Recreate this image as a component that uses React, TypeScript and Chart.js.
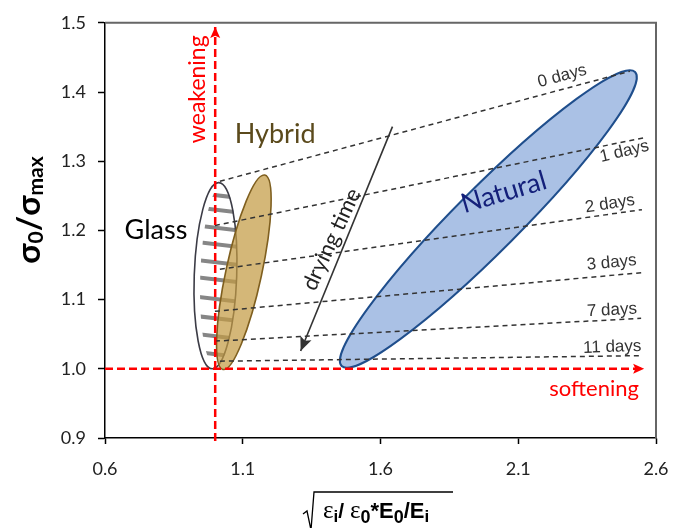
import React, { useEffect, useRef } from 'react';
import { Chart, registerables } from 'chart.js';

Chart.register(...registerables);

// ---- axis ticks ----
const xTicks = [0.6, 1.1, 1.6, 2.1, 2.6];
const yTicks = [0.9, 1.0, 1.1, 1.2, 1.3, 1.4, 1.5];

// ---- drying-time dashed lines (start -> end, data coords) ----
const dayLabels = ['0 days', '1 days', '2 days', '3 days', '7 days', '11 days'];
const dayStartX = [1.017, 0.999, 1.017, 0.999, 0.999, 1.017];
const dayStartY = [1.271, 1.207, 1.144, 1.083, 1.040, 1.011];
const dayEndX = [2.505, 2.557, 2.549, 2.549, 2.546, 2.546];
const dayEndY = [1.430, 1.334, 1.230, 1.139, 1.073, 1.019];
// label anchors (baseline-left) and tilt
const dayLabelX = [2.176, 2.401, 2.346, 2.350, 2.350, 2.336];
const dayLabelY = [1.407, 1.299, 1.226, 1.143, 1.076, 1.023];
const dayLabelAngle = [-15, -13.5, -9, -5.5, -3, -2];

// ---- ellipses: major-axis end points (data) and minor/major ratio ----
const ellipseNames = ['Glass', 'Hybrid', 'Natural'];
const ellipseX1 = [0.989, 1.028, 1.459];
const ellipseY1 = [1.000, 0.999, 1.004];
const ellipseX2 = [1.013, 1.180, 2.524];
const ellipseY2 = [1.269, 1.280, 1.429];
const ellipseRatio = [0.228, 0.18, 0.153];

// hatching stripes of the Glass ellipse (y values)
const glassHatchY = [1.251, 1.230, 1.204, 1.180, 1.154, 1.129, 1.101, 1.073, 1.047, 1.021];

// ---- reference lines ----
const weakeningX = [1.0, 1.0];
const weakeningY = [0.8957, 1.494];
const softeningX = [0.6, 2.557];
const softeningY = [1.0, 1.0];
const dryingX = [1.6435, 1.3101];
const dryingY = [1.35, 1.0257];

const FONT = "Lato, 'Noto Sans', 'DejaVu Sans', sans-serif";
const ARIAL = "'Liberation Sans', Arial, sans-serif";

function arrowHead(ctx: CanvasRenderingContext2D, x0: number, y0: number, x1: number, y1: number, len: number, half: number, color: string) {
  const a = Math.atan2(y1 - y0, x1 - x0);
  const c = Math.cos(a), s = Math.sin(a);
  ctx.save();
  ctx.fillStyle = color;
  ctx.beginPath();
  ctx.moveTo(x1, y1);
  ctx.lineTo(x1 - len * c + half * s, y1 - len * s - half * c);
  ctx.lineTo(x1 - len * c * 0.8, y1 - len * s * 0.8);
  ctx.lineTo(x1 - len * c - half * s, y1 - len * s + half * c);
  ctx.closePath();
  ctx.fill();
  ctx.restore();
}

function ellipseGeom(chart: any, i: number) {
  const xs = chart.scales.x, ys = chart.scales.y;
  const x1 = xs.getPixelForValue(ellipseX1[i]), y1 = ys.getPixelForValue(ellipseY1[i]);
  const x2 = xs.getPixelForValue(ellipseX2[i]), y2 = ys.getPixelForValue(ellipseY2[i]);
  const cx = (x1 + x2) / 2, cy = (y1 + y2) / 2;
  const a = Math.hypot(x2 - x1, y2 - y1) / 2;
  const b = a * ellipseRatio[i];
  const ang = Math.atan2(y2 - y1, x2 - x1);
  return { cx, cy, a, b, ang };
}

function text(ctx: CanvasRenderingContext2D, s: string, x: number, y: number, font: string, color: string, angle = 0, align: CanvasTextAlign = 'left', base: CanvasTextBaseline = 'alphabetic') {
  ctx.save();
  ctx.translate(x, y);
  ctx.rotate((angle * Math.PI) / 180);
  ctx.font = font;
  ctx.fillStyle = color;
  ctx.textAlign = align;
  ctx.textBaseline = base;
  ctx.fillText(s, 0, 0);
  ctx.restore();
}

const shapesPlugin = {
  id: 'shapes',
  beforeDatasetsDraw(chart: any) {
    const ctx: CanvasRenderingContext2D = chart.ctx;
    const ys = chart.scales.y;
    // Natural
    const n = ellipseGeom(chart, 2);
    ctx.save();
    ctx.beginPath();
    ctx.ellipse(n.cx, n.cy, n.a, n.b, n.ang, 0, Math.PI * 2);
    ctx.fillStyle = '#aac1e5';
    ctx.fill();
    ctx.lineWidth = 2;
    ctx.strokeStyle = '#1f4e8c';
    ctx.stroke();
    ctx.restore();
    // Glass
    const g = ellipseGeom(chart, 0);
    ctx.save();
    ctx.beginPath();
    ctx.ellipse(g.cx, g.cy, g.a, g.b, g.ang, 0, Math.PI * 2);
    ctx.fillStyle = '#ffffff';
    ctx.fill();
    ctx.restore();
    ctx.save();
    ctx.beginPath();
    ctx.ellipse(g.cx + 3, g.cy, g.a - 3, g.b - 3, g.ang, 0, Math.PI * 2);
    ctx.clip();
    ctx.strokeStyle = '#868686';
    ctx.lineWidth = 4;
    const gx = g.cx;
    for (const hy of glassHatchY) {
      const py = ys.getPixelForValue(hy);
      ctx.beginPath();
      ctx.moveTo(gx - 30, py - 3.5);
      ctx.lineTo(gx + 30, py + 3.5);
      ctx.stroke();
    }
    ctx.restore();
    ctx.save();
    ctx.beginPath();
    ctx.ellipse(g.cx, g.cy, g.a, g.b, g.ang, 0, Math.PI * 2);
    ctx.lineWidth = 1.6;
    ctx.strokeStyle = '#3c3c46';
    ctx.stroke();
    ctx.restore();
    // Hybrid
    const h = ellipseGeom(chart, 1);
    ctx.save();
    ctx.beginPath();
    ctx.ellipse(h.cx, h.cy, h.a, h.b, h.ang, 0, Math.PI * 2);
    ctx.fillStyle = 'rgba(196,155,68,0.72)';
    ctx.fill();
    ctx.lineWidth = 1.6;
    ctx.strokeStyle = '#7f5f1f';
    ctx.stroke();
    ctx.restore();
  },
  afterDatasetsDraw(chart: any) {
    const ctx: CanvasRenderingContext2D = chart.ctx;
    const xs = chart.scales.x, ys = chart.scales.y;
    const X = (v: number) => xs.getPixelForValue(v);
    const Y = (v: number) => ys.getPixelForValue(v);
    // arrowheads
    arrowHead(ctx, X(weakeningX[0]), Y(weakeningY[0]), X(weakeningX[1]), Y(weakeningY[1]), 11, 5, '#ff0000');
    arrowHead(ctx, X(softeningX[0]), Y(softeningY[0]), X(softeningX[1]), Y(softeningY[1]), 11, 5, '#ff0000');
    arrowHead(ctx, X(dryingX[0]), Y(dryingY[0]), X(dryingX[1]), Y(dryingY[1]), 14, 6, '#333333');
    // day labels
    dayLabels.forEach((s, i) => {
      text(ctx, s, X(dayLabelX[i]), Y(dayLabelY[i]), `17px ${ARIAL}`, '#333333', dayLabelAngle[i]);
    });
    // named labels
    text(ctx, ellipseNames[0], X(0.785), Y(1.187), `27px ${FONT}`, '#000000', 0, 'center');
    text(ctx, ellipseNames[1], X(1.071), Y(1.327), `27px ${FONT}`, '#5b4a1c', 0, 'left');
    text(ctx, ellipseNames[2], X(2.0565), Y(1.2429), `27px ${FONT}`, '#14207a', -16.5, 'center');
    text(ctx, 'weakening', X(0.937), Y(1.404), `23px ${FONT}`, '#ff0000', -90, 'center', 'middle');
    text(ctx, 'softening', X(2.538), Y(0.96), `22px ${FONT}`, '#ff0000', 0, 'right');
    text(ctx, 'drying time', X(1.4225), Y(1.187), `22px ${FONT}`, '#222222', -65, 'center', 'middle');
  },
  afterDraw(chart: any) {
    const ctx: CanvasRenderingContext2D = chart.ctx;
    const ca = chart.chartArea;
    // top & right frame
    ctx.save();
    ctx.strokeStyle = '#666666';
    ctx.lineWidth = 2;
    ctx.beginPath();
    ctx.moveTo(ca.left, ca.top);
    ctx.lineTo(ca.right, ca.top);
    ctx.lineTo(ca.right, ca.bottom);
    ctx.stroke();
    ctx.restore();

    // y title: sigma_0 / sigma_max
    const segsY: [string, boolean][] = [['σ', false], ['0', true], ['/', false], ['σ', false], ['max', true]];
    const main = 33, sub = 21;
    ctx.save();
    ctx.translate(30, 210);
    ctx.rotate(-Math.PI / 2);
    ctx.fillStyle = '#000';
    ctx.textBaseline = 'alphabetic';
    let total = 0;
    for (const [s, isSub] of segsY) {
      ctx.font = `bold ${isSub ? sub : main}px ${FONT}`;
      total += ctx.measureText(s).width;
    }
    let u = -total / 2;
    for (const [s, isSub] of segsY) {
      ctx.font = `bold ${isSub ? sub : main}px ${FONT}`;
      ctx.fillText(s, u, isSub ? 13 : 10);
      u += ctx.measureText(s).width;
    }
    ctx.restore();

    // x title: sqrt( eps_i / eps_0 * E_0 / E_i )
    ctx.save();
    ctx.strokeStyle = '#000';
    ctx.lineWidth = 1.3;
    ctx.beginPath();
    ctx.moveTo(303, 514);
    ctx.lineTo(307, 511);
    ctx.lineTo(311, 530);
    ctx.lineTo(314, 492);
    ctx.lineTo(453, 492);
    ctx.stroke();
    const segsX: [string, string, number][] = [
      ['ε', `25px 'Liberation Serif', 'DejaVu Serif', serif`, 0],
      ['i', `bold 17px ${ARIAL}`, 4],
      ['/ ', `bold 21px ${ARIAL}`, 0],
      ['ε', `25px 'Liberation Serif', 'DejaVu Serif', serif`, 0],
      ['0', `bold 18px ${ARIAL}`, 5],
      ['*E', `bold 22px ${ARIAL}`, 0],
      ['0', `bold 18px ${ARIAL}`, 5],
      ['/E', `bold 22px ${ARIAL}`, 0],
      ['i', `bold 17px ${ARIAL}`, 4],
    ];
    ctx.fillStyle = '#000';
    ctx.textBaseline = 'alphabetic';
    let tx = 323;
    for (const [s, f, dy] of segsX) {
      ctx.font = f;
      ctx.fillText(s, tx, 518 + dy);
      tx += ctx.measureText(s).width;
    }
    ctx.restore();
  },
};

function lineDs(xs: number[], ys: number[], color: string, width: number, dash: number[]) {
  return {
    data: xs.map((x, i) => ({ x, y: ys[i] })),
    showLine: true,
    borderColor: color,
    backgroundColor: color,
    borderWidth: width,
    borderDash: dash,
    pointRadius: 0,
    fill: false,
    clip: false as any,
  };
}

export default function App() {
  const ref = useRef<HTMLCanvasElement>(null);
  useEffect(() => {
    const datasets: any[] = [
      lineDs(weakeningX, weakeningY, '#ff0000', 2.5, [8, 4]),
      lineDs(softeningX, softeningY, '#ff0000', 2.5, [8, 4]),
      lineDs(dryingX, dryingY, '#333333', 1.6, []),
      ...dayLabels.map((_, i) =>
        lineDs([dayStartX[i], dayEndX[i]], [dayStartY[i], dayEndY[i]], '#333333', 1.5, [5, 4])
      ),
    ];
    const chart = new Chart(ref.current!, {
      type: 'scatter',
      data: { datasets },
      plugins: [shapesPlugin],
      options: {
        responsive: false,
        maintainAspectRatio: false,
        devicePixelRatio: 1,
        animation: false,
        layout: { padding: { top: 18, right: 30, left: 0, bottom: 0 } },
        plugins: { legend: { display: false }, tooltip: { enabled: false } },
        scales: {
          x: {
            type: 'linear',
            min: 0.6,
            max: 2.6,
            afterBuildTicks: (s: any) => { s.ticks = xTicks.map((v) => ({ value: v })); },
            afterFit: (s: any) => { s.height = 90; },
            ticks: {
              callback: (v: any) => Number(v).toFixed(1),
              font: { family: FONT, size: 18 },
              color: '#222',
              padding: 14,
              maxRotation: 0,
            },
            grid: { drawOnChartArea: false, drawTicks: true, tickLength: 6, tickColor: '#000', tickWidth: 1.5 },
            border: { display: true, color: '#000', width: 1.5 },
          },
          y: {
            type: 'linear',
            min: 0.9,
            max: 1.5,
            afterBuildTicks: (s: any) => { s.ticks = yTicks.map((v) => ({ value: v })); },
            afterFit: (s: any) => { s.width = 105; },
            ticks: {
              callback: (v: any) => Number(v).toFixed(1),
              font: { family: FONT, size: 18 },
              color: '#222',
              padding: 12,
            },
            grid: { drawOnChartArea: false, drawTicks: true, tickLength: 7, tickColor: '#000', tickWidth: 1.5 },
            border: { display: true, color: '#000', width: 1.5 },
          },
        },
      } as any,
    });
    return () => chart.destroy();
  }, []);
  return (
    <div style={{ position: 'fixed', left: 0, top: 0, width: 686, height: 528, background: '#fff' }}>
      <canvas ref={ref} width={686} height={528} style={{ display: 'block', width: 686, height: 528 }} />
    </div>
  );
}
